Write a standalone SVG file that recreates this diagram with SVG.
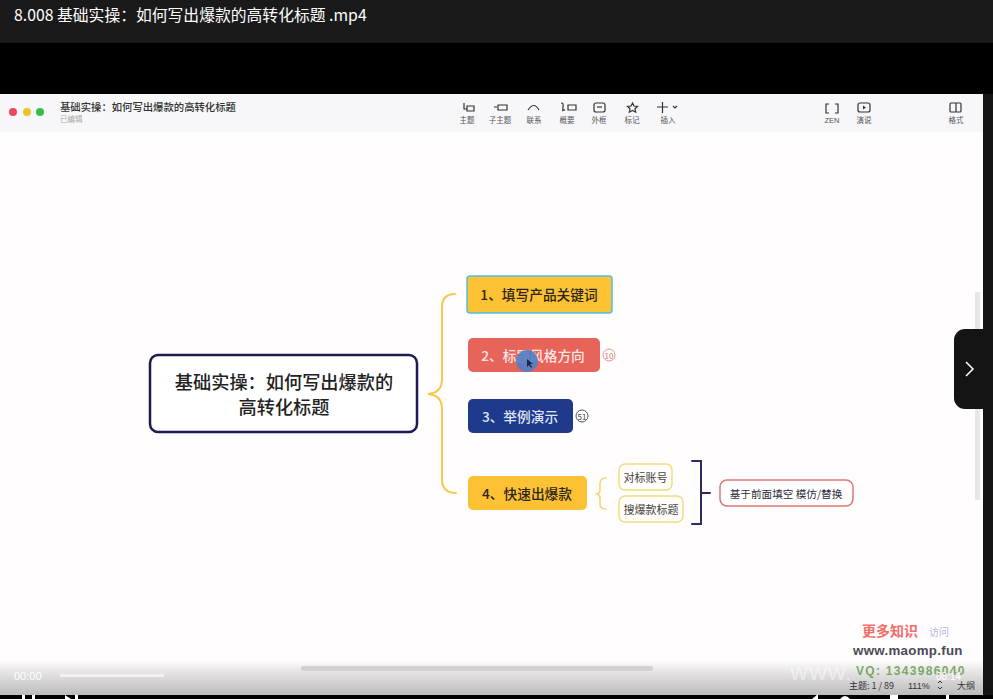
<svg xmlns="http://www.w3.org/2000/svg" width="993" height="699" viewBox="0 0 993 699">
<style>
text{font-family:"Liberation Sans","Noto Sans CJK SC",sans-serif}
.cn{font-family:"Noto Sans CJK SC","Liberation Sans",sans-serif}
.tb{font-size:7.5px;fill:#555;text-anchor:middle}
.ic{fill:none;stroke:#333;stroke-width:1.2}
.n{font-size:13.7px;font-weight:500;text-anchor:middle;dominant-baseline:central}
.s{font-size:11px;text-anchor:middle;dominant-baseline:central;fill:#444}
.con{fill:none;stroke-linecap:round}
</style>
<defs>
<linearGradient id="fade" x1="0" y1="0" x2="0" y2="1"><stop offset="0" stop-color="#999" stop-opacity="0"/><stop offset="1" stop-color="#a8a5a8" stop-opacity=".75"/></linearGradient>
</defs>
<rect width="993" height="699" fill="#000"/>
<rect width="993" height="43" fill="#1a1a1a"/>
<text x="14" y="21" class="cn" font-size="15.800" fill="#fff">8.008 基础实操：如何写出爆款的高转化标题 .mp4</text>
<rect y="94" width="983" height="601" fill="#fffdfe"/>
<rect y="94" width="983" height="38" fill="#f7f7f9"/>
<rect x="983" y="94" width="10" height="601" fill="#141414"/>
<g id="window-controls"><circle cx="13" cy="112" r="4" fill="#ea4a5e"/><circle cx="27" cy="112" r="4" fill="#eec22e"/><circle cx="40" cy="112" r="4" fill="#2fc043"/></g>
<text x="60" y="111" class="cn" font-size="10.350" font-weight="500" fill="#333">基础实操：如何写出爆款的高转化标题</text>
<text x="60" y="122" class="cn" font-size="7.500" fill="#aaa">已编辑</text>
<g id="toolbar">
<path class="ic" d="M464 103v6h3M467 106h7v5h-7z"/><text x="467" y="123" class="tb cn">主题</text>
<path class="ic" d="M494 107h3M498 105h9v5h-9z"/><text x="500" y="123" class="tb cn">子主题</text>
<path class="ic" d="M528 110q6-9 11 0"/><text x="534" y="123" class="tb cn">联系</text>
<path class="ic" d="M561 103q3 0 2 4t2 3q-3 0-2 1M568 105h8v5h-8z"/><text x="567" y="123" class="tb cn">概要</text>
<rect class="ic" x="594" y="103" width="11" height="9" rx="2"/><path class="ic" d="M597 107h5"/><text x="599" y="123" class="tb cn">外框</text>
<path class="ic" d="M632.500 103l1.500 3 3.500.4-2.500 2.400.7 3.400-3.200-1.700-3.200 1.700.7-3.400-2.500-2.400 3.500-.4z"/><text x="632" y="123" class="tb cn">标记</text>
<path class="ic" d="M657 107h11M662.500 102v11M673 106l2 2 2-2"/><text x="668" y="123" class="tb cn">插入</text>
<path class="ic" d="M829 104h-3v9h3M835 104h3v9h-3"/><text x="832" y="123" class="tb">ZEN</text>
<rect class="ic" x="858" y="103" width="12" height="9" rx="2"/><path d="M863 105.500l3 2-3 2z" fill="#333"/><text x="864" y="123" class="tb cn">演说</text>
<rect class="ic" x="950" y="103" width="11" height="9" rx="1"/><path class="ic" d="M956 103v9"/><text x="956" y="123" class="tb cn">格式</text>
</g>
<g id="connectors">
<path class="con" stroke="#f6c94e" stroke-width="2" d="M455 294q-13 0-13 13v72q0 14-14 15q14 1 14 15v70q0 14 14 14"/>
<path class="con" stroke="#f6d56e" stroke-width="1.500" d="M606 478q-6 0-6 6v6q0 3-3 4q3 1 3 4v6q0 5 6 5"/>
<path class="con" stroke="#2d2a5e" stroke-width="2" d="M692 461h9v63h-9M702 493h8"/>
</g>
<g id="root"><rect x="150" y="355" width="267" height="77" rx="8" fill="#fff" stroke="#1d1b52" stroke-width="2.500"/>
<text x="284" y="381" class="n cn" style="font-size:18.200px" fill="#222">基础实操：如何写出爆款的</text>
<text x="284" y="406" class="n cn" style="font-size:18.200px" fill="#222">高转化标题</text></g>
<g id="node1"><rect x="467" y="276" width="145" height="37" rx="3" fill="#fdc134" stroke="#4fbfe8" stroke-width="1.500"/><text x="539" y="293.500" class="n cn" fill="#2b2518">1、填写产品关键词</text></g>
<g id="node2"><rect x="468" y="338" width="132" height="34" rx="5" fill="#e7645a"/><text x="533" y="355" class="n cn" fill="#fde6e2">2、标题风格方向</text>
<circle cx="609" cy="355" r="6" fill="#fff" stroke="#e8938c"/><text x="609" y="355" class="cn" font-size="8" fill="#d8756e" text-anchor="middle" dominant-baseline="central">10</text></g>
<g id="node3"><rect x="468" y="399" width="105" height="34" rx="5" fill="#1f3a8c"/><text x="520" y="416" class="n cn" fill="#dfe5f5">3、举例演示</text>
<circle cx="582" cy="416" r="6" fill="#fff" stroke="#556"/><text x="582" y="416" class="cn" font-size="8" fill="#445" text-anchor="middle" dominant-baseline="central">51</text></g>
<g id="node4"><rect x="468" y="476" width="119" height="34" rx="5" fill="#fdc134"/><text x="527" y="493" class="n cn" fill="#2b2518">4、快速出爆款</text></g>
<g id="sub1"><rect x="619" y="464" width="53" height="26" rx="6" fill="#fffefa" stroke="#f1dc7e" stroke-width="1.500"/><text x="645.500" y="477" class="s cn">对标账号</text></g>
<g id="sub2"><rect x="619" y="496" width="64" height="26" rx="6" fill="#fffefa" stroke="#f1dc7e" stroke-width="1.500"/><text x="651" y="509" class="s cn">搜爆款标题</text></g>
<g id="summary"><rect x="720" y="480" width="133" height="26" rx="7" fill="#fff" stroke="#dd7774" stroke-width="1.500"/><text x="786" y="493" class="s cn" style="fill:#2b2b3a;font-size:10.600px">基于前面填空 模仿/替换</text></g>
<g id="cursor"><circle cx="527" cy="361" r="11" fill="#4f7fc4" opacity=".9"/><path d="M527 359v8l2-2 2 3 1-1-2-3h3z" fill="#1d2440"/></g>
<rect x="0" y="660" width="983" height="35" fill="url(#fade)"/>
<g id="player">
<rect x="60" y="674" width="104" height="3" fill="#f3f0f2"/>
<rect x="301" y="666" width="352" height="5" rx="2" fill="#d5d0d6"/>
<rect x="975" y="292" width="5" height="208" fill="#e9e6ea"/>
<text x="14" y="680" font-size="11" fill="#fff">00:00</text>
<path d="M983 329h-18a11 11 0 0 0-11 11v58a11 11 0 0 0 11 11h28v-80z" fill="#141414"/>
<path d="M966 362l7 7-7 7" fill="none" stroke="#fff" stroke-width="1.500"/>
</g>
<g id="watermark">
<text x="862" y="636" class="cn" font-size="14" font-weight="700" fill="#f0554f" opacity=".85">更多知识</text>
<text x="929" y="636" class="cn" font-size="10" fill="#b8b8e0">访问</text>
<text x="853" y="655" font-size="13.300" font-weight="700" letter-spacing=".3" fill="#4a4a55">www.maomp.fun</text>
<text x="856" y="675" font-size="12" font-weight="700" letter-spacing="1.300" fill="#5e9a45" opacity=".8">VQ: 1343986040</text>
<text x="790" y="680" font-size="19" letter-spacing="1" fill="#fff" opacity=".5">WWW.</text>
<text x="936" y="680" font-size="10" fill="#fff">08:14</text>
<text x="849" y="689" class="cn" font-size="9" fill="#333">主题: 1 / 89</text>
<text x="908" y="689" font-size="9" fill="#333">111%</text>
<text x="957" y="689" class="cn" font-size="9" fill="#333">大纲</text>
<path d="M938 683l2-2 2 2M938 687l2 2 2-2" fill="none" stroke="#333"/>
</g>
<g id="bottom-controls" fill="#fff">
<path d="M22 699v-4h3v4zM32 699v-4h3v4zM65 695l6 4h-6zM75 695h3v4h-3zM812 699l6-5v5zM840 699q5-6 10 0zM890 695h8v4h-8zM946 695h3v4h-3z"/>
</g>
</svg>
